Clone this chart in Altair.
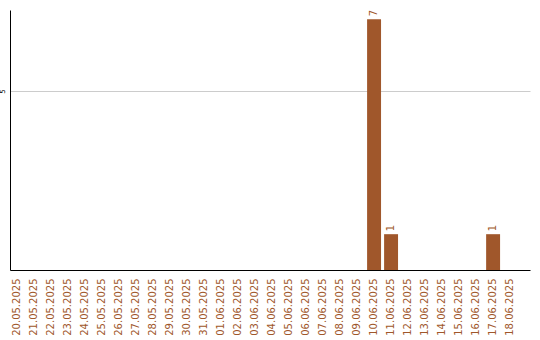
import altair as alt
import pandas as pd

dates = [
    "20.05.2025", "21.05.2025", "22.05.2025", "23.05.2025", "24.05.2025",
    "25.05.2025", "26.05.2025", "27.05.2025", "28.05.2025", "29.05.2025",
    "30.05.2025", "31.05.2025", "01.06.2025", "02.06.2025", "03.06.2025",
    "04.06.2025", "05.06.2025", "06.06.2025", "07.06.2025", "08.06.2025",
    "09.06.2025", "10.06.2025", "11.06.2025", "12.06.2025", "13.06.2025",
    "14.06.2025", "15.06.2025", "16.06.2025", "17.06.2025", "18.06.2025",
]
counts = [0] * 21 + [7, 1, 0, 0, 0, 0, 0, 1, 0]

df = pd.DataFrame({"date": dates, "count": counts})
df["label"] = df["count"].apply(lambda v: str(v) if v > 0 else "")

BROWN = "#A0572B"

x = alt.X(
    "date:N",
    sort=dates,
    scale=alt.Scale(paddingInner=0.18, paddingOuter=0.38, align=0),
    axis=alt.Axis(
        title=None, labelAngle=-90, labelColor=BROWN, labelFontSize=10,
        labelFont="DejaVu Sans", ticks=False, labelPadding=8,
        domainColor="black", domainWidth=1, grid=False,
    ),
)
y = alt.Y(
    "count:Q",
    scale=alt.Scale(domain=[0, 7.26], nice=False),
    axis=alt.Axis(
        title=None, values=[5], labelAngle=-90, labelFontSize=7,
        labelFont="DejaVu Sans", labelColor="black", ticks=False,
        labelPadding=5, labelAlign="center", labelBaseline="bottom",
        domainColor="black", domainWidth=1, gridColor="#cccccc",
    ),
)

bars = alt.Chart(df).mark_bar(color=BROWN).encode(x=x, y=y)
text = alt.Chart(df).mark_text(
    angle=270, align="left", baseline="middle", dx=3,
    fontSize=10, font="DejaVu Sans", color=BROWN,
).encode(x=x, y=y, text="label:N")

chart = (
    (bars + text)
    .properties(
        width=520, height=260,
        background="white",
        autosize=alt.AutoSizeParams(type="none"),
        padding={"left": 10, "top": 10, "right": 10, "bottom": 70},
    )
    .configure_view(strokeWidth=0, stroke="transparent")
)

chart.save("out.html", embed_options={"renderer": "svg", "actions": False})
